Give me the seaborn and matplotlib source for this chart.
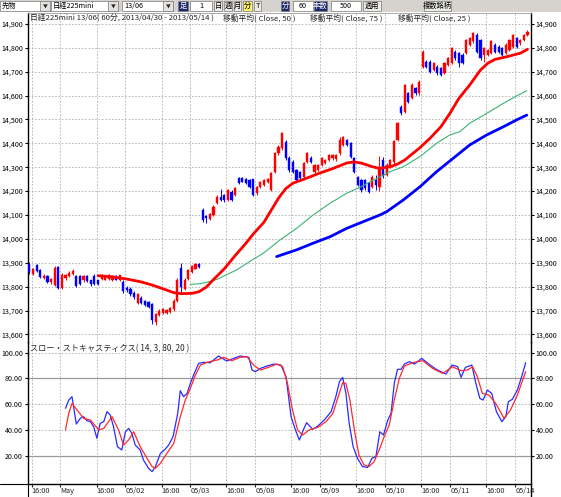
import numpy as np
import pandas as pd
import matplotlib
matplotlib.use("Agg")
import matplotlib.pyplot as plt
import matplotlib.transforms as mtransforms
from matplotlib.lines import Line2D
from matplotlib.patches import Rectangle
import seaborn as sns

# hourly bars, 0 = 04/30 15:00 (day 9-15, night 16-2)
opens = [13896, 13852, 13889, 13868, 13838, 13846, 13818, 13808, 13882, 13795,
         13835, 13845, 13852, 13845, 13845, 13826, 13843, 13826, 13845, 13826,
         13832, 13830, 13833, 13826, 13844, 13826, 13820, 13795, 13790, 13775,
         13732, 13752, 13742, 13735, 13728, 13652, 13682, 13690, 13690, 13695,
         13705, 13740, 13880, 13792, 13832, 13862, 13876, 13896, 14120, 14095,
         14085, 14100, 14150, 14177, 14183, 14163, 14198, 14185, 14253, 14253,
         14249, 14246, 14249, 14190, 14218, 14225, 14239, 14205, 14281, 14358,
         14379, 14407, 14337, 14323, 14288, 14281, 14260, 14323, 14337, 14281,
         14288, 14309, 14316, 14330, 14337, 14333, 14358, 14393, 14414, 14400,
         14337, 14260, 14246, 14246, 14232, 14219, 14246, 14219, 14330, 14268,
         14300, 14320, 14412, 14553, 14530, 14609, 14589, 14630, 14609, 14721,
         14742, 14742, 14707, 14721, 14714, 14693, 14728, 14735, 14784, 14777,
         14770, 14777, 14812, 14826, 14853, 14832, 14770, 14770, 14777, 14812,
         14805, 14798, 14777, 14791, 14805, 14840, 14818, 14833, 14853]
highs = [13902, 13880, 13895, 13872, 13852, 13850, 13838, 13885, 13886, 13858,
         13852, 13865, 13872, 13850, 13850, 13850, 13848, 13830, 13852, 13830,
         13852, 13850, 13852, 13850, 13848, 13850, 13826, 13805, 13798, 13780,
         13775, 13760, 13746, 13740, 13730, 13690, 13708, 13712, 13708, 13715,
         13748, 13835, 13900, 13836, 13876, 13892, 13898, 13900, 14128, 14100,
         14110, 14140, 14182, 14210, 14188, 14208, 14204, 14218, 14258, 14258,
         14253, 14250, 14252, 14222, 14243, 14250, 14255, 14278, 14362, 14392,
         14449, 14412, 14345, 14330, 14294, 14286, 14320, 14362, 14345, 14314,
         14314, 14342, 14335, 14356, 14356, 14356, 14428, 14432, 14420, 14404,
         14342, 14265, 14250, 14250, 14238, 14266, 14267, 14345, 14344, 14316,
         14336, 14412, 14490, 14560, 14650, 14615, 14652, 14636, 14664, 14790,
         14748, 14748, 14740, 14726, 14718, 14740, 14760, 14802, 14790, 14782,
         14776, 14838, 14846, 14864, 14860, 14838, 14804, 14796, 14832, 14818,
         14810, 14804, 14818, 14838, 14858, 14846, 14838, 14858, 14872]
lows = [13855, 13848, 13860, 13836, 13832, 13815, 13812, 13805, 13790, 13790,
        13828, 13840, 13848, 13800, 13808, 13820, 13818, 13805, 13806, 13808,
        13828, 13826, 13830, 13822, 13826, 13822, 13775, 13778, 13762, 13750,
        13728, 13728, 13718, 13710, 13645, 13640, 13678, 13684, 13685, 13690,
        13700, 13735, 13770, 13788, 13828, 13858, 13872, 13878, 14072, 14065,
        14080, 14095, 14145, 14158, 14155, 14158, 14158, 14180, 14228, 14236,
        14230, 14212, 14180, 14185, 14213, 14220, 14235, 14200, 14276, 14352,
        14374, 14332, 14282, 14276, 14240, 14248, 14255, 14318, 14318, 14276,
        14284, 14304, 14312, 14326, 14332, 14328, 14352, 14388, 14388, 14338,
        14276, 14220, 14198, 14205, 14190, 14214, 14205, 14200, 14255, 14262,
        14296, 14315, 14408, 14520, 14525, 14568, 14584, 14604, 14604, 14716,
        14716, 14695, 14702, 14686, 14680, 14688, 14722, 14730, 14750, 14720,
        14730, 14772, 14806, 14820, 14778, 14750, 14742, 14766, 14772, 14778,
        14778, 14765, 14772, 14786, 14800, 14800, 14812, 14828, 14848]
closes = [13861, 13875, 13866, 13840, 13845, 13820, 13832, 13880, 13795, 13850,
          13848, 13858, 13866, 13805, 13812, 13845, 13822, 13810, 13810, 13812,
          13848, 13846, 13848, 13846, 13830, 13847, 13780, 13785, 13768, 13756,
          13770, 13732, 13724, 13714, 13660, 13685, 13700, 13705, 13702, 13710,
          13742, 13830, 13800, 13830, 13870, 13886, 13893, 13884, 14080, 14088,
          14105, 14135, 14177, 14163, 14163, 14204, 14163, 14212, 14232, 14240,
          14235, 14218, 14184, 14218, 14239, 14246, 14250, 14274, 14358, 14386,
          14442, 14337, 14288, 14281, 14246, 14253, 14316, 14358, 14323, 14309,
          14309, 14337, 14330, 14351, 14351, 14351, 14414, 14428, 14393, 14344,
          14281, 14225, 14204, 14211, 14197, 14261, 14226, 14300, 14262, 14310,
          14330, 14408, 14484, 14528, 14644, 14574, 14644, 14609, 14658, 14784,
          14721, 14700, 14735, 14693, 14686, 14735, 14756, 14797, 14756, 14735,
          14735, 14832, 14840, 14860, 14784, 14756, 14798, 14791, 14826, 14784,
          14784, 14770, 14812, 14833, 14853, 14805, 14832, 14853, 14866]

# moving averages
ma25_bar = [19, 23, 27, 31, 34, 38, 40, 42, 45, 47, 49, 51, 54, 57, 60, 62, 65, 67,
            69, 71, 73, 77, 80, 84, 88, 90, 92, 95, 97, 100, 102, 104, 108, 111,
            114, 116.5, 119, 122, 125, 127, 129, 133, 136, 138]
ma25 = [13846, 13841, 13832, 13820, 13807, 13786, 13775, 13771, 13772, 13779,
        13798, 13830, 13875, 13930, 13982, 14020, 14070, 14120, 14170, 14210,
        14233, 14255, 14273, 14294, 14318, 14322, 14317, 14302, 14295, 14302,
        14313, 14330, 14379, 14421, 14469, 14525, 14588, 14644, 14707, 14735,
        14751, 14765, 14777, 14793]
ma50_bar = [44.5, 47, 49, 52, 54.6, 57.4, 61, 64.8, 69.4, 74, 78.6, 83.3, 87.9,
            91.6, 95.3, 99.9, 103.6, 108.2, 112.8, 116.5, 119.3, 122, 126.7,
            131.3, 135, 137.8]
ma50 = [13810, 13812, 13818, 13831, 13850, 13870, 13905, 13940, 13995, 14044,
        14100, 14149, 14191, 14216, 14246, 14281, 14302, 14344, 14400, 14435,
        14449, 14484, 14525, 14567, 14598, 14620]
ma75_bar = [68.5, 74, 78.6, 83.3, 87.9, 92.5, 97.1, 99, 103.6, 108.2, 112.8,
            117.4, 122, 126.7, 131.3, 135, 137.8]
ma75 = [13926, 13954, 13982, 14009, 14044, 14072, 14100, 14114, 14163, 14218,
        14281, 14337, 14393, 14435, 14469, 14498, 14518]

# slow stochastics
k_bar = [10, 10.9, 11.8, 13.0, 14.1, 15.0, 15.9, 16.9, 17.8, 18.7, 19.6, 20.6,
         21.5, 22.4, 23.3, 24.4, 25.6, 26.6, 27.5, 28.4, 29.3, 30.7, 31.6, 33.0,
         34.0, 34.9, 36.3, 37.4, 38.6, 39.8, 41.1, 41.8, 42.7, 43.7, 44.6, 45.5,
         46.9, 48.3, 50.1, 52.4, 54.7, 56.6, 58.4, 60.8, 61.7, 62.6, 64.0, 65.8,
         67.7, 69.7, 71.1, 72.5, 73.7, 74.8, 75.9, 76.8, 78.5, 79.9, 81.7, 83.6,
         84.9, 85.9, 86.8, 87.7, 88.6, 89.7, 90.9, 92.3, 93.7, 94.9, 96.0, 97.1,
         98.1, 99.3, 100.2, 101.1, 102.0, 103.0, 103.9, 105.3, 106.7, 108.7,
         110.4, 112.7, 115.4, 117.1, 118.7, 119.6, 120.8, 122.6, 123.7, 124.8,
         125.7, 126.9, 128.1, 129.4, 130.9, 132.0, 132.7, 133.8, 135.2, 136.4, 137.5]
k_val = [56.8, 63.2, 65.8, 44.6, 49.0, 50.3, 47.2, 46.4, 42.5, 33.5, 45.1, 46.4,
         54.2, 51.6, 42.5, 27.0, 24.4, 38.6, 41.2, 37.3, 28.3, 24.4, 16.6, 10.2,
         7.6, 11.5, 21.8, 24.4, 28.3, 34.8, 52.9, 70.5, 65.8, 68.4, 76.2, 82.7,
         91.7, 92.5, 92.2, 97.4, 93.5, 95.6, 97.4, 96.4, 86.5, 85.2, 87.8, 89.6,
         91.2, 90.4, 81.4, 50.3, 40.0, 32.2, 40.0, 45.6, 40.5, 43.0, 47.7, 54.2,
         65.8, 77.5, 80.8, 68.4, 45.1, 27.0, 17.9, 11.5, 10.9, 17.9, 19.2, 38.6,
         36.0, 47.7, 52.9, 76.2, 87.1, 87.1, 91.2, 93.0, 91.2, 95.6, 91.7, 87.1,
         83.4, 90.4, 89.1, 80.8, 88.6, 90.4, 76.2, 64.5, 63.2, 71.0, 68.4, 54.2,
         46.4, 50.3, 61.9, 63.8, 71.0, 81.4, 92.2]
d_bar = [10, 10.9, 11.8, 13.2, 15.0, 16.9, 19.2, 20.6, 22.9, 24.7, 26.1, 27.5,
         28.9, 30.7, 32.6, 34.0, 34.9, 36.3, 38.1, 40.0, 41.8, 43.2, 44.6, 46.0,
         47.4, 49.2, 52.0, 53.8, 56.1, 58.4, 60.3, 62.1, 64.0, 66.7, 68.6, 70.2,
         71.5, 72.9, 74.3, 75.7, 77.5, 79.9, 82.2, 84.1, 85.4, 86.8, 87.7, 88.8,
         90.2, 91.3, 92.7, 94.1, 95.5, 96.9, 98.3, 99.7, 101.1, 102.5, 103.9,
         106.2, 109.0, 111.7, 114.5, 117.2, 119.6, 121.4, 122.8, 124.1, 125.5,
         127.3, 129.2, 131.5, 133.3, 135.2, 137.5]
d_val = [40.0, 52.9, 60.6, 55.5, 49.0, 47.7, 40.0, 41.2, 50.3, 40.0, 28.3, 32.2,
         38.6, 27.0, 17.9, 11.5, 10.2, 14.1, 21.8, 29.6, 50.3, 63.2, 72.3, 82.7,
         90.4, 92.5, 94.3, 96.4, 93.8, 96.4, 96.9, 90.4, 86.5, 89.1, 91.2, 89.1,
         76.2, 55.5, 40.0, 36.0, 40.0, 42.0, 46.4, 52.9, 64.5, 76.7, 76.2, 63.2,
         37.3, 20.5, 12.8, 11.5, 15.3, 24.4, 34.8, 43.8, 63.2, 80.1, 89.6, 92.2,
         93.8, 87.8, 83.9, 89.1, 86.0, 86.5, 89.1, 81.4, 68.4, 67.1, 60.6, 49.0,
         55.5, 67.1, 85.2]

tick_bars = [1, 9, 19, 27, 37, 45, 55, 63, 73, 81, 91, 99, 109, 117, 127, 135]
tick_labels = ["16:00", "May", "16:00", "05/02", "16:00", "05/03", "16:00", "05/08",
               "16:00", "05/09", "16:00", "05/10", "16:00", "05/11", "16:00", "05/14"]
price_ticks = list(range(13600, 14901, 100))
stoch_ticks = [20, 40, 60, 80, 100]

sns.set_theme(style="white")
plt.rcParams['font.family'] = ['Noto Sans CJK JP', 'DejaVu Sans']

W, H = 561, 497
def fx(px):
    return px / W
def fy(py):
    return 1 - py / H

fig = plt.figure(figsize=(W / 100, H / 100), dpi=100)
fig.patch.set_facecolor("white")

left, right = 27.5, 531
ax = fig.add_axes([fx(left), fy(342), fx(right) - fx(left), (342 - 13) / H])
ax2 = fig.add_axes([fx(left), fy(484), fx(right) - fx(left), (484 - 342) / H], sharex=ax)
for a in (ax, ax2):
    a.set_facecolor("none")

RED, BLUE = "#ff0000", "#0000ff"
grid_kw = dict(color="#b0b0b0", lw=0.6, ls=(0, (2, 2)))
FS = 5.6

# --- candles ---
df = pd.DataFrame({"o": opens, "h": highs, "l": lows, "c": closes})
df["bar"] = np.arange(len(df))
cols = np.where(df["c"] >= df["o"], RED, BLUE)
ax.vlines(df["bar"], df["l"], df["h"], colors=cols, lw=0.7, zorder=3)
ax.bar(df["bar"], (df["c"] - df["o"]).abs(), bottom=df[["o", "c"]].min(axis=1),
       width=0.6, color=cols, edgecolor=cols, lw=0.3, zorder=4)

sns.lineplot(x=ma50_bar, y=ma50, ax=ax, color="#3cb371", lw=0.8, zorder=5)
sns.lineplot(x=ma75_bar, y=ma75, ax=ax, color=BLUE, lw=2.0, zorder=5)
sns.lineplot(x=ma25_bar, y=ma25, ax=ax, color=RED, lw=2.0, zorder=6)

ax.set_xlim(-0.53, 138.98)
ax.set_ylim(13568.6, 14945.2)
ax.set_yticks(price_ticks, [f"{v:,}" for v in price_ticks])
for v in price_ticks:
    ax.axhline(v, zorder=1, **grid_kw)
ax.set_xlabel("")
ax.set_ylabel("")

# --- stochastics ---
sns.lineplot(x=k_bar, y=k_val, ax=ax2, color="#2a2aff", lw=0.9, zorder=4)
sns.lineplot(x=d_bar, y=d_val, ax=ax2, color="#ff2a2a", lw=0.9, zorder=4)
ax2.set_ylim(-2.0, 108.3)
ax2.set_yticks(stoch_ticks, [f"{v:.2f}" for v in stoch_ticks])
for v in (100, 60, 40):
    ax2.axhline(v, zorder=1, **grid_kw)
for v in (80, 20):
    ax2.axhline(v, color="#9a9a9a", lw=0.9, zorder=1)
ax2.set_xlabel("")
ax2.set_ylabel("")

tpos = [b - 0.4 for b in tick_bars]
for a in (ax, ax2):
    for t in tpos:
        a.axvline(t, zorder=1, **grid_kw)
ax2.set_xticks(tpos, tick_labels)
off = mtransforms.ScaledTranslation(1.5 / 100, 0, fig.dpi_scale_trans)
for lab in ax2.get_xticklabels():
    lab.set_horizontalalignment("left")
    lab.set_transform(lab.get_transform() + off)

for a in (ax, ax2):
    a.tick_params(axis="y", left=True, right=True, labelleft=True, labelright=True,
                  direction="out", length=2.5, width=0.8, labelsize=5.1, pad=0.8,
                  colors="black")
ax.tick_params(axis="x", bottom=False, labelbottom=False)
ax2.tick_params(axis="x", bottom=True, direction="out", length=2, width=0.8,
                labelsize=FS - 0.3, pad=0.3)

for s in ("left", "right"):
    ax.spines[s].set_color("black"); ax.spines[s].set_linewidth(1.0)
    ax2.spines[s].set_color("black"); ax2.spines[s].set_linewidth(1.0)
ax.spines["bottom"].set_visible(False)
ax.spines["top"].set_color("#9a9a9a"); ax.spines["top"].set_linewidth(0.6)
ax2.spines["top"].set_visible(False)
ax2.spines["bottom"].set_color("black"); ax2.spines["bottom"].set_linewidth(1.0)

# axis lines that run past the plot frame
fig.add_artist(Line2D([0, fx(left)], [fy(484), fy(484)], color="black", lw=0.8))
fig.add_artist(Line2D([fx(left), fx(left)], [fy(484), 0], color="black", lw=0.8))
fig.add_artist(Line2D([fx(right), fx(right)], [fy(484), 0], color="black", lw=1.0))

# titles
fig.text(fx(30), fy(18), "日経225mini 13/06( 60分, 2013/04/30 - 2013/05/14 )",
         fontsize=FS, va="center", ha="left")
for x0, t in [(223, "移動平均( Close, 50 )"), (310, "移動平均( Close, 75 )"),
              (398, "移動平均( Close, 25 )")]:
    fig.text(fx(x0), fy(18), t, fontsize=FS, va="center", ha="left")
fig.text(fx(30), fy(349), "スロー・ストキャスティクス( 14, 3, 80, 20 )",
         fontsize=FS + 0.3, va="center", ha="left")

# --- toolbar strip ---
tb = fig.add_axes([0, fy(12), 1, 12 / H])
tb.set_xlim(0, W)
tb.set_ylim(12, 0)
tb.axis("off")
tb.add_patch(Rectangle((0, 0), W, 12, color="#d6d3ce", zorder=0))

def box(x0, x1, txt, fc="white", tc="black", ha="left"):
    tb.add_patch(Rectangle((x0, 1), x1 - x0, 10, fc=fc, ec="#7a7a7a", lw=0.5))
    tx = x0 + 2 if ha == "left" else (x0 + x1) / 2
    tb.text(tx, 6, txt, fontsize=5.2, color=tc, va="center", ha=ha)

def drop(x0, x1, txt):
    box(x0, x1, txt)
    tb.add_patch(Rectangle((x1 - 10, 1), 10, 10, fc="#e4e2de", ec="#7a7a7a", lw=0.5))
    tb.text(x1 - 5, 6, "▼", fontsize=3.5, va="center", ha="center")

drop(0, 50, "先物")
drop(51, 118, "日経225mini")
drop(122, 173, "13/06")
box(178, 188, "足", fc="#1c2a6e", tc="white", ha="center")
box(190, 212, "1", ha="center")
for x0, x1, t in [(214, 222, "日"), (224, 232, "週"), (234, 241, "月"), (254, 261, "T")]:
    box(x0, x1, t, fc="#ecebe8", ha="center")
box(243, 252, "分", fc="#fff36a", ha="center")
box(281, 289, "分", fc="#1c2a6e", tc="white", ha="center")
box(293, 313, "60", ha="center")
box(314, 327, "本数", fc="#1c2a6e", tc="white", ha="center")
box(331, 361, "500", ha="center")
box(363, 381, "適用", fc="#ecebe8", ha="center")
box(424, 451, "複数銘柄", fc="#ecebe8", ha="center")

fig.savefig("out.png", dpi=100)
